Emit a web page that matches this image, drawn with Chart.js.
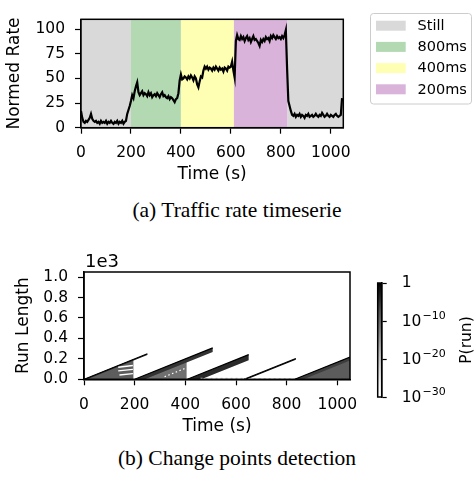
<!DOCTYPE html>
<html><head><meta charset="utf-8">
<script src="https://cdn.jsdelivr.net/npm/chart.js@4.4.1/dist/chart.umd.min.js"></script>
<style>
html,body{margin:0;padding:0;background:#fff;width:474px;height:481px;overflow:hidden;}
body{position:relative;}
canvas{position:absolute;}
#c1{left:0;top:0;}
#c2{left:0;top:240px;}
#c3{left:360px;top:270px;}
.cap{position:absolute;left:0;width:474px;text-align:center;font-family:"Liberation Serif","Times New Roman",serif;font-size:21.5px;line-height:24px;color:#000;}
</style></head><body>
<canvas id="c1" width="474" height="190"></canvas>
<div class="cap" style="top:198px">(a) Traffic rate timeserie</div>
<canvas id="c2" width="474" height="200"></canvas>
<canvas id="c3" width="114" height="140"></canvas>
<div class="cap" style="top:446px">(b) Change points detection</div>
<script>
const FONT = "'DejaVu Sans', sans-serif";
const FS = 15.5;   // tick labels
const FL = 17;     // axis titles
const FG = 14.5;   // legend

// ---------- (a) traffic rate, one sample every STEP seconds ----------
const STEP = 5;
const rate = [
 17,10,6,5,7,6,8,10,14,9,7,6,7,5,6,4,7,5,6,5,
 7,4,6,5,7,5,4,6,5,7,4,6,5,7,4,6,7,14,18,22,
 27,33,30,37,42,46,36,33,35,37,33,35,34,32,36,33,35,31,33,34,
 32,35,33,31,34,36,32,33,31,30,32,29,31,30,28,26,29,30,35,48,
 54,49,50,52,51,49,52,50,53,51,48,52,50,44,41,47,52,51,58,62,
 60,62,59,61,60,58,61,59,62,60,58,61,59,60,57,61,60,58,62,61,
 62,67,58,51,88,94,90,89,93,90,92,88,91,93,89,91,87,90,93,89,
 90,88,86,83,89,87,90,88,92,90,91,88,93,91,94,92,90,93,91,92,
 90,93,91,94,99,60,27,22,17,13,12,14,11,13,12,14,11,13,12,10,
 13,12,14,11,12,13,11,12,14,12,11,13,12,15,13,11,12,14,12,11,
 13,12,11,13,14,12,11,12,13,30
];
const timeTicks = [0,200,400,600,800,1000];
const rateTicks = [0,25,50,75,100];
const phaseLabel = ['Still','800ms','400ms','200ms','Still'];
const phaseStart = [0,200,400,612,827];
const phaseEnd   = [200,400,612,827,1050];
const legendLabels = ['Still','800ms','400ms','200ms'];
const legendColors = ['#d9d9d9','#b3d9b3','#ffffb3','#d9b3d9'];

// ---------- (b) run-length posterior ----------
const runTicks = [0,200,400,600,800,1000];
const segStart   = [0,200,408,632,832];     // detected change points (s)
const segMassEnd = [195,405,408,632,1050];  // end of grey probability mass (s)
const segTailEnd = [250,508,650,836,1050];  // last time the run survives (s)
const segBand    = [12,40,55,12,35];        // run-length width of darkest band
const gapT0 = [135,135,140], gapT1 = [193,193,193];
const gapR0 = [118,82,42],  gapR1 = [135,98,56];
const dotT0 = 318, dotR0 = 25, dotT1 = 402, dotR1 = 110;
const speckT0 = [460,650], speckT1 = [640,830], speckR = [6,4];
const colorTicks = [1e-30,1e-20,1e-10,1];
const colorTickExp = [-30,-20,-10,0];

const massColors = ['#5d5d5d','#707070',null,null,'#5c5c5c'];
const bandColors = ['#222222','#333333','#2a2a2a','#111111','#3d3d3d'];

function tickFont(){ return {family:FONT,size:FS}; }
function labelFont(){ return {family:FONT,size:FL}; }

const framePlugin = {
  id:'frame',
  afterDatasetsDraw(chart){
    const a = chart.chartArea, c = chart.ctx;
    c.save(); c.strokeStyle='#000'; c.lineWidth=1.5;
    c.strokeRect(a.left,a.top,a.right-a.left,a.bottom-a.top);
    c.restore();
  }
};

// ---------- chart (a) ----------
const phasePlugin = {
  id:'phases',
  beforeDatasetsDraw(chart){
    const a = chart.chartArea, c = chart.ctx, xs = chart.scales.x;
    c.save();
    c.beginPath(); c.rect(a.left,a.top,a.right-a.left,a.bottom-a.top); c.clip();
    phaseLabel.forEach((lab,i)=>{
      const x0 = xs.getPixelForValue(phaseStart[i]);
      const x1 = xs.getPixelForValue(phaseEnd[i]);
      c.fillStyle = legendColors[legendLabels.indexOf(lab)];
      c.fillRect(x0,a.top,x1-x0,a.bottom-a.top);
    });
    c.restore();
  },
  afterDraw(chart){
    const c = chart.ctx;
    c.save();
    const bx=370.5, by=13.5, bw=101, bh=90.5, r=3;
    c.beginPath();
    c.moveTo(bx+r,by); c.lineTo(bx+bw-r,by); c.quadraticCurveTo(bx+bw,by,bx+bw,by+r);
    c.lineTo(bx+bw,by+bh-r); c.quadraticCurveTo(bx+bw,by+bh,bx+bw-r,by+bh);
    c.lineTo(bx+r,by+bh); c.quadraticCurveTo(bx,by+bh,bx,by+bh-r);
    c.lineTo(bx,by+r); c.quadraticCurveTo(bx,by,bx+r,by); c.closePath();
    c.fillStyle='rgba(255,255,255,0.8)'; c.fill();
    c.strokeStyle='#cccccc'; c.lineWidth=1; c.stroke();
    c.font = FG+"px "+FONT; c.textBaseline='middle'; c.textAlign='left';
    legendLabels.forEach((lab,i)=>{
      const cy = 25.7 + i*21.2;
      c.fillStyle = legendColors[i];
      c.fillRect(376, cy-5, 29.7, 10);
      c.fillStyle = '#000';
      c.fillText(lab, 417.5, cy+0.5);
    });
    c.restore();
  }
};

new Chart(document.getElementById('c1'), {
  type:'scatter',
  data:{datasets:[{
    data: rate.map((v,i)=>({x:i*STEP, y:v})),
    showLine:true, borderColor:'#000', borderWidth:2.2, pointRadius:0, tension:0
  }]},
  options:{
    responsive:false, animation:false, events:[],
    layout:{padding:{left:0,top:4.3,right:130.7,bottom:0}},
    plugins:{legend:{display:false},tooltip:{enabled:false}},
    scales:{
      x:{type:'linear',min:0,max:1050,
        afterBuildTicks:s=>{s.ticks=timeTicks.map(v=>({value:v}));},
        afterFit:s=>{s.height=190-127.7;},
        ticks:{font:tickFont(),color:'#000',padding:10,maxRotation:0,autoSkip:false,callback:v=>String(v)},
        grid:{display:true,drawOnChartArea:false,tickLength:6,tickColor:'#000',tickWidth:1.2},
        border:{display:true,color:'#000',width:1.5},
        title:{display:true,text:'Time (s)',font:labelFont(),color:'#000',padding:{top:0,bottom:4.8}}},
      y:{type:'linear',min:0,max:110,
        afterBuildTicks:s=>{s.ticks=rateTicks.map(v=>({value:v}));},
        afterFit:s=>{s.width=81;},
        ticks:{font:tickFont(),color:'#000',padding:10,autoSkip:false,callback:v=>String(v)},
        grid:{display:true,drawOnChartArea:false,tickLength:6,tickColor:'#000',tickWidth:1.2},
        border:{display:true,color:'#000',width:1.5},
        title:{display:true,text:'Normed Rate',font:labelFont(),color:'#000',padding:{top:4.8,bottom:0}}}
    }
  },
  plugins:[phasePlugin, framePlugin]
});

// ---------- chart (b) ----------
const ds = [];
function poly(points, color, order){
  ds.push({data:points, showLine:true, borderWidth:0, pointRadius:0, tension:0,
           backgroundColor:color, borderColor:color, fill:'shape', order:order});
}
function seg(points, color, width, order, dash){
  ds.push({data:points, showLine:true, borderWidth:width, pointRadius:0, tension:0,
           borderColor:color, fill:false, order:order, borderDash:dash||[]});
}
segStart.forEach((s,i)=>{
  const f = segMassEnd[i], L = segTailEnd[i], w = segBand[i];
  if (f > s) poly([{x:s,y:0},{x:f,y:f-s},{x:f,y:0}], massColors[i], 6);
  poly([{x:s,y:0},{x:L,y:L-s},{x:L,y:L-s-w},{x:s+w,y:0}], bandColors[i], 5);
  seg([{x:s,y:0},{x:L,y:L-s}], '#000', 1.2, 4);
});
gapT0.forEach((t,i)=>{
  seg([{x:t,y:gapR0[i]},{x:gapT1[i],y:gapR1[i]}], '#ffffff', 1.3, 2);
});
seg([{x:dotT0,y:dotR0},{x:dotT1,y:dotR1}], '#ffffff', 1.2, 2, [1.5,2.5]);
speckT0.forEach((t,i)=>{
  seg([{x:t,y:speckR[i]},{x:speckT1[i],y:speckR[i]}], '#d0d0d0', 2, 3, [2,3]);
});

const offsetPlugin = {
  id:'offsetText',
  afterDraw(chart){
    const c = chart.ctx, a = chart.chartArea;
    c.save(); c.font = "18px "+FONT; c.fillStyle='#000';
    c.textAlign='left'; c.textBaseline='alphabetic';
    c.fillText('1e3', a.left+1, a.top-5);
    c.restore();
  }
};

new Chart(document.getElementById('c2'), {
  type:'scatter',
  data:{datasets:ds},
  options:{
    responsive:false, animation:false, events:[],
    layout:{padding:{left:0,top:32,right:124,bottom:0}},
    plugins:{legend:{display:false},tooltip:{enabled:false}},
    scales:{
      x:{type:'linear',min:0,max:1050,
        afterBuildTicks:s=>{s.ticks=timeTicks.map(v=>({value:v}));},
        afterFit:s=>{s.height=200-139.3;},
        ticks:{font:tickFont(),color:'#000',padding:10,maxRotation:0,autoSkip:false,callback:v=>String(v)},
        grid:{display:true,drawOnChartArea:false,tickLength:6,tickColor:'#000',tickWidth:1.2},
        border:{display:true,color:'#000',width:1.5},
        title:{display:true,text:'Time (s)',font:labelFont(),color:'#000',padding:{top:0,bottom:3.1}}},
      y:{type:'linear',min:0,max:1050,
        afterBuildTicks:s=>{s.ticks=runTicks.map(v=>({value:v}));},
        afterFit:s=>{s.width=84;},
        ticks:{font:tickFont(),color:'#000',padding:10,autoSkip:false,callback:v=>(v/1000).toFixed(1)},
        grid:{display:true,drawOnChartArea:false,tickLength:6,tickColor:'#000',tickWidth:1.2},
        border:{display:true,color:'#000',width:1.5},
        title:{display:true,text:'Run Length',font:labelFont(),color:'#000',padding:{top:13.1,bottom:0}}}
    }
  },
  plugins:[framePlugin, offsetPlugin]
});

// ---------- colorbar ----------
const greys = ['#ffffff','#f0f0f0','#d9d9d9','#bdbdbd','#969696','#737373','#525252','#252525','#000000'];
const cbLabelPlugin = {
  id:'cbLabels',
  afterDraw(chart){
    const c = chart.ctx, ys = chart.scales.y;
    c.save(); c.fillStyle='#000'; c.textBaseline='middle'; c.textAlign='left';
    colorTicks.forEach((v,i)=>{
      const y = ys.getPixelForValue(v);
      const x = 41.7;
      if (colorTickExp[i] === 0) {
        c.font = FS+"px "+FONT; c.fillText('1', x, y);
      } else {
        c.font = FS+"px "+FONT; c.fillText('10', x, y+1);
        const w = c.measureText('10').width;
        c.font = "11px "+FONT; c.fillText('\u2212'+(-colorTickExp[i]), x+w+1, y-5);
      }
    });
    c.font = "15.5px "+FONT; c.textAlign='center';
    c.translate(106.7, 70); c.rotate(-Math.PI/2);
    c.fillText('P(run)', 0, 0);
    c.restore();
  }
};
new Chart(document.getElementById('c3'), {
  type:'bar',
  data:{labels:['P'], datasets:[{
    data:[[colorTicks[0], colorTicks[colorTicks.length-1]]],
    barPercentage:1, categoryPercentage:1, borderWidth:0,
    backgroundColor:(ctx)=>{
      const a = ctx.chart.chartArea; if(!a) return '#888';
      const g = ctx.chart.ctx.createLinearGradient(0,a.bottom,0,a.top);
      greys.forEach((col,i)=>g.addColorStop(i/(greys.length-1), col));
      return g;
    }
  }]},
  options:{
    responsive:false, animation:false, events:[],
    layout:{padding:{left:17.7,top:13,right:0,bottom:13}},
    plugins:{legend:{display:false},tooltip:{enabled:false}},
    scales:{
      x:{display:false},
      y:{type:'logarithmic',position:'right',min:colorTicks[0],max:1,
        afterBuildTicks:s=>{s.ticks=colorTicks.map(v=>({value:v}));},
        afterFit:s=>{s.width=114-21.7;},
        ticks:{display:false},
        grid:{display:true,drawOnChartArea:false,tickLength:5,tickColor:'#000',tickWidth:1.2},
        border:{display:true,color:'#000',width:1.5}}
    }
  },
  plugins:[framePlugin, cbLabelPlugin]
});
</script>
</body></html>
